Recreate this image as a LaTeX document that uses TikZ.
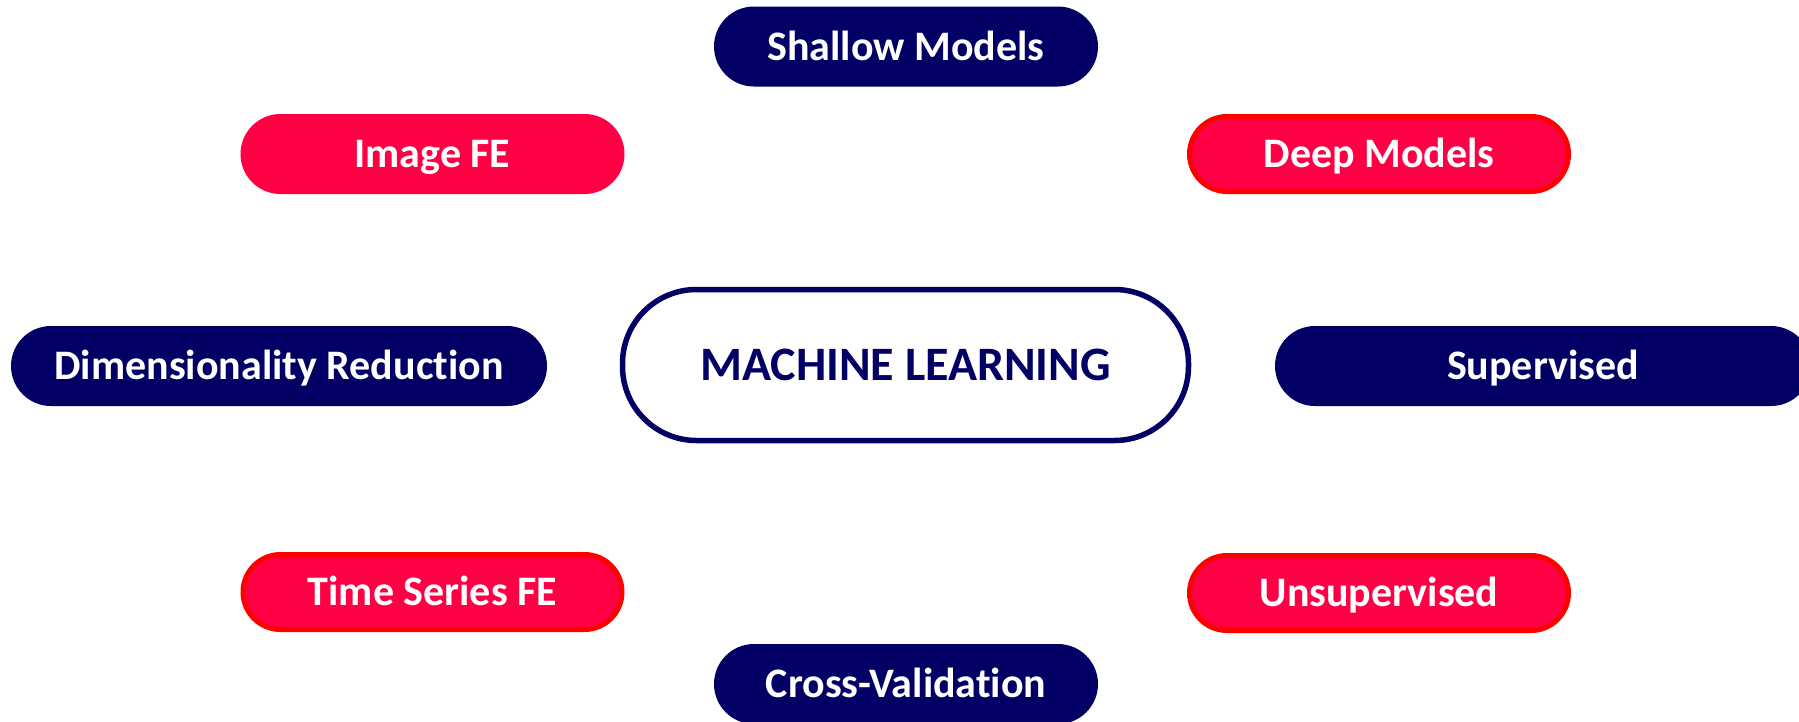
\documentclass[tikz,border=0pt]{standalone}
\usepackage{fontspec}
\setmainfont{Carlito}[Ligatures={NoCommon}]
\definecolor{navy}{HTML}{020064}
\definecolor{pillred}{HTML}{FF0044}
\definecolor{edgered}{HTML}{FF0000}
\begin{document}
\begin{tikzpicture}[x=1pt,y=-1pt,
  pilltext/.style={text=white, font=\fontsize{42}{42}\selectfont\bfseries,
    text height=27pt, text depth=0pt, inner sep=0pt},
  navypill/.style={pilltext, rectangle, rounded corners=40pt,
    minimum height=80pt, minimum width=384pt, fill=navy},
  widepill/.style={navypill, minimum width=536pt},
  redpill/.style={pilltext, rectangle, rounded corners=37.5pt,
    minimum height=75pt, minimum width=379pt, fill=pillred,
    draw=edgered, line width=5pt},
  plainred/.style={redpill, draw=none, minimum height=80pt,
    minimum width=384pt, rounded corners=40pt},
  core/.style={rectangle, rounded corners=74pt, minimum height=151pt,
    minimum width=566pt, draw=navy, line width=5.5pt, fill=white,
    text=navy, font=\fontsize{48}{48}\selectfont\bfseries,
    text height=31pt, text depth=0pt, inner sep=0pt}]
  \useasboundingbox (0,0) rectangle (1799,721);
  \clip (0,0) rectangle (1799,721);
  \fill[white] (0,0) rectangle (1799,721);

  % central topic
  \node[core] (ml) at (905.5,365) {MACHINE LEARNING};

  % surrounding topics
  \node[navypill] (shallow) at (906,46.5) {Shallow Models};
  \node[plainred] (imgfe) at (432.5,154) {Image FE};
  \node[redpill] (deep) at (1379,154) {Deep Models};
  \node[widepill] (dimred) at (279,366) {Dimensionality Reduction};
  \node[widepill] (sup) at (1543,366) {Supervised};
  \node[redpill] (tsfe) at (432.5,592) {Time Series FE};
  \node[redpill] (unsup) at (1379,593) {Unsupervised};
  \node[navypill] (cv) at (906,684) {Cross-Validation};
\end{tikzpicture}
\end{document}
